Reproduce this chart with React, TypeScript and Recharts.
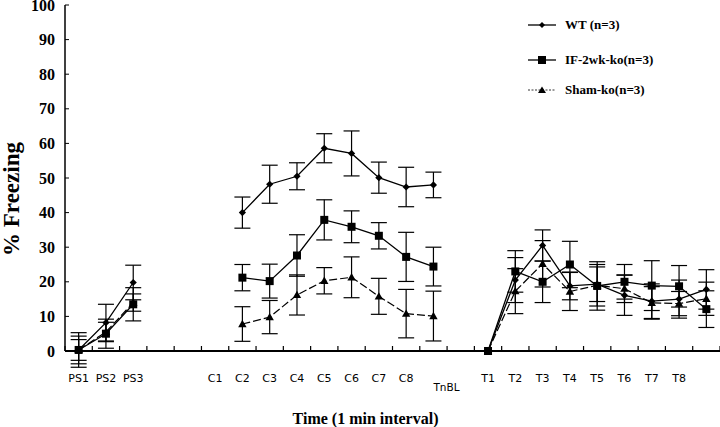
import { LineChart, Line, XAxis, YAxis, ErrorBar, ReferenceLine } from 'recharts'

// slots along the time axis (one per tick interval)
const categories = [
  'PS1', 'PS2', 'PS3', '', '', 'C1', 'C2', 'C3', 'C4', 'C5', 'C6', 'C7', 'C8', 'TnBL', '',
  'T1', 'T2', 'T3', 'T4', 'T5', 'T6', 'T7', 'T8', '',
]

const wt = [0.3, 8.2, 19.8, null, null, null, 40.0, 48.2, 50.5, 58.6, 57.1, 50.1, 47.4, 48.0, null, 0, 20.5, 30.5, 18.8, 19.3, 16.1, 14.4, 15.0, 17.8]
const wtErr = [5, 5.3, 5, null, null, null, 4.5, 5.5, 3.9, 4.2, 6.5, 4.5, 5.7, 3.7, null, 0, 6.5, 4.5, 4, 5, 5.8, 5, 5.5, 5.7]

const ifKo = [0.3, 5.0, 13.5, null, null, null, 21.2, 20.2, 27.6, 37.9, 35.9, 33.3, 27.2, 24.4, null, 0, 23.0, 20.0, 25.0, 18.8, 20.0, 18.9, 18.7, 12.1]
const ifKoErr = [4, 4.2, 4.8, null, null, null, 3.8, 4.9, 6, 5.8, 4.6, 3.8, 7.1, 5.6, null, 0, 6, 6, 6.7, 7, 5, 7.2, 6, 5.3]

const sham = [0.3, 5.5, 14.0, null, null, null, 7.8, 9.8, 16.2, 20.3, 21.3, 15.8, 10.8, 10.1, null, 0, 17.3, 25.2, 17.2, 19.0, 18.0, 13.9, 13.7, 15.1]
const shamErr = [3, 2.8, 2.5, null, null, null, 5, 4.8, 5.8, 3.8, 5.9, 5.2, 7, 7.2, null, 0, 6.5, 6.7, 5.5, 6, 4, 4.7, 3.5, 4.8]

const yTicks = [0, 10, 20, 30, 40, 50, 60, 70, 80, 90, 100]

const data = categories.map((label, i) => ({
  x: i + 0.5,
  label,
  wt: wt[i],
  wtErr: wtErr[i],
  ifKo: ifKo[i],
  ifKoErr: ifKoErr[i],
  sham: sham[i],
  shamErr: shamErr[i],
}))

// tick marks on slot boundaries, labels on slot centres
const xTicks = Array.from({ length: categories.length * 2 + 1 }, (_, i) => i / 2)

const serif = '"Liberation Serif", "Times New Roman", serif'
const sans = '"DejaVu Sans", Verdana, sans-serif'

function XTick(props: any) {
  const { x, y, payload } = props
  const v = payload.value
  if (Number.isInteger(v)) {
    return <rect x={x - 0.6} y={y - 5} width={1.2} height={5} fill="#000" />
  }
  const label = categories[Math.floor(v)]
  if (!label) return <g />
  if (label === 'TnBL') {
    return (
      <text x={x + 13} y={y + 40} textAnchor="middle" fontFamily={sans} fontSize={10.5} fill="#000">
        {label}
      </text>
    )
  }
  return (
    <text x={x} y={y + 31} textAnchor="middle" fontFamily={sans} fontSize={11} fill="#000">
      {label}
    </text>
  )
}

function YTitle({ viewBox }: any) {
  const cx = viewBox.x + 11
  const cy = viewBox.y + viewBox.height / 2 + 21
  return (
    <text
      x={cx}
      y={cy}
      transform={`rotate(-90 ${cx} ${cy})`}
      textAnchor="middle"
      dominantBaseline="central"
      fontFamily={serif}
      fontWeight="bold"
      fontSize={23}
      fill="#000"
    >
      % Freezing
    </text>
  )
}

function Diamond({ cx, cy, index }: any) {
  if (cx == null || cy == null) return <g key={`d-${index}`} />
  const r = 3.6
  return <path key={`d-${index}`} d={`M${cx},${cy - r}L${cx + r},${cy}L${cx},${cy + r}L${cx - r},${cy}Z`} fill="#000" />
}

function Square({ cx, cy, index }: any) {
  if (cx == null || cy == null) return <g key={`s-${index}`} />
  const r = 4
  return <rect key={`s-${index}`} x={cx - r} y={cy - r} width={r * 2} height={r * 2} fill="#000" />
}

function Triangle({ cx, cy, index }: any) {
  if (cx == null || cy == null) return <g key={`t-${index}`} />
  const r = 4.2
  return <path key={`t-${index}`} d={`M${cx},${cy - r}L${cx + r},${cy + r * 0.75}L${cx - r},${cy + r * 0.75}Z`} fill="#000" />
}

const legendItems = [
  { name: 'WT (n=3)', dash: undefined, width: 1.3, marker: 'diamond', gap: 19 },
  { name: 'IF-2wk-ko(n=3)', dash: undefined, width: 1.3, marker: 'square', gap: 14 },
  { name: 'Sham-ko(n=3)', dash: '2 1.5', width: 0.8, marker: 'triangle', gap: 0 },
]

function LegendBox() {
  return (
    <div
      style={{
        position: 'absolute',
        left: 527,
        top: 17,
        fontFamily: serif,
        fontWeight: 'bold',
        fontSize: 13,
        color: '#000',
      }}
    >
      {legendItems.map((it) => (
        <div key={it.name} style={{ display: 'flex', alignItems: 'center', height: 16, marginBottom: it.gap }}>
          <svg width={30} height={12} style={{ marginRight: 8 }}>
            <line x1={1} x2={29} y1={6} y2={6} stroke="#000" strokeWidth={it.width} strokeDasharray={it.dash} />
            {it.marker === 'diamond' && <path d="M15,3L18,6L15,9L12,6Z" fill="#000" />}
            {it.marker === 'square' && <rect x={11} y={2} width={8} height={8} fill="#000" />}
            {it.marker === 'triangle' && <path d="M15,2.5L19,9L11,9Z" fill="#000" />}
          </svg>
          <span>{it.name}</span>
        </div>
      ))}
    </div>
  )
}

export default function App() {
  return (
    <div style={{ position: 'absolute', left: 0, top: 0, width: 720, height: 427, background: '#fff' }}>
      {/* error bars of the near-zero points hang below the axis in the original */}
      <style>{'.recharts-line, .recharts-line-dots, .recharts-errorBars { clip-path: none !important; }'}</style>
      <LineChart width={720} height={427} data={data} margin={{ top: 5, right: 0, bottom: 0, left: 0 }}>
        <XAxis
          dataKey="x"
          type="number"
          domain={[0, categories.length]}
          ticks={xTicks}
          interval={0}
          tickLine={false}
          tickSize={0}
          tickMargin={0}
          height={76}
          axisLine={{ stroke: '#000', strokeWidth: 2 }}
          stroke="#000"
          tick={<XTick />}
          label={{
            value: 'Time (1 min interval)',
            position: 'insideBottom',
            offset: 3,
            dx: -27,
            style: { fontFamily: serif, fontWeight: 'bold', fontSize: 16, fill: '#000' },
          }}
        />
        <YAxis
          type="number"
          domain={[0, 100]}
          allowDataOverflow
          ticks={yTicks}
          interval={0}
          width={65}
          tickSize={-4}
          tickMargin={14}
          axisLine={{ stroke: '#000', strokeWidth: 1.5 }}
          tickLine={{ stroke: '#000', strokeWidth: 1 }}
          tick={{ fontFamily: serif, fontWeight: 'bold', fontSize: 16, fill: '#000' }}
          label={<YTitle />}
        />
        <ReferenceLine y={0} stroke="#000" strokeWidth={2} ifOverflow="visible" />
        <Line
          dataKey="sham"
          stroke="#000"
          strokeWidth={1.2}
          strokeDasharray="8 3"
          dot={(p: any) => <Triangle {...p} />}
          activeDot={false}
          connectNulls={false}
          isAnimationActive={false}
        >
          <ErrorBar dataKey="shamErr" width={8} stroke="#000" strokeWidth={1.2} direction="y" />
        </Line>
        <Line
          dataKey="ifKo"
          stroke="#000"
          strokeWidth={1.3}
          dot={(p: any) => <Square {...p} />}
          activeDot={false}
          connectNulls={false}
          isAnimationActive={false}
        >
          <ErrorBar dataKey="ifKoErr" width={8} stroke="#000" strokeWidth={1.2} direction="y" />
        </Line>
        <Line
          dataKey="wt"
          stroke="#000"
          strokeWidth={1.3}
          dot={(p: any) => <Diamond {...p} />}
          activeDot={false}
          connectNulls={false}
          isAnimationActive={false}
        >
          <ErrorBar dataKey="wtErr" width={8} stroke="#000" strokeWidth={1.2} direction="y" />
        </Line>
      </LineChart>
      <LegendBox />
    </div>
  )
}
